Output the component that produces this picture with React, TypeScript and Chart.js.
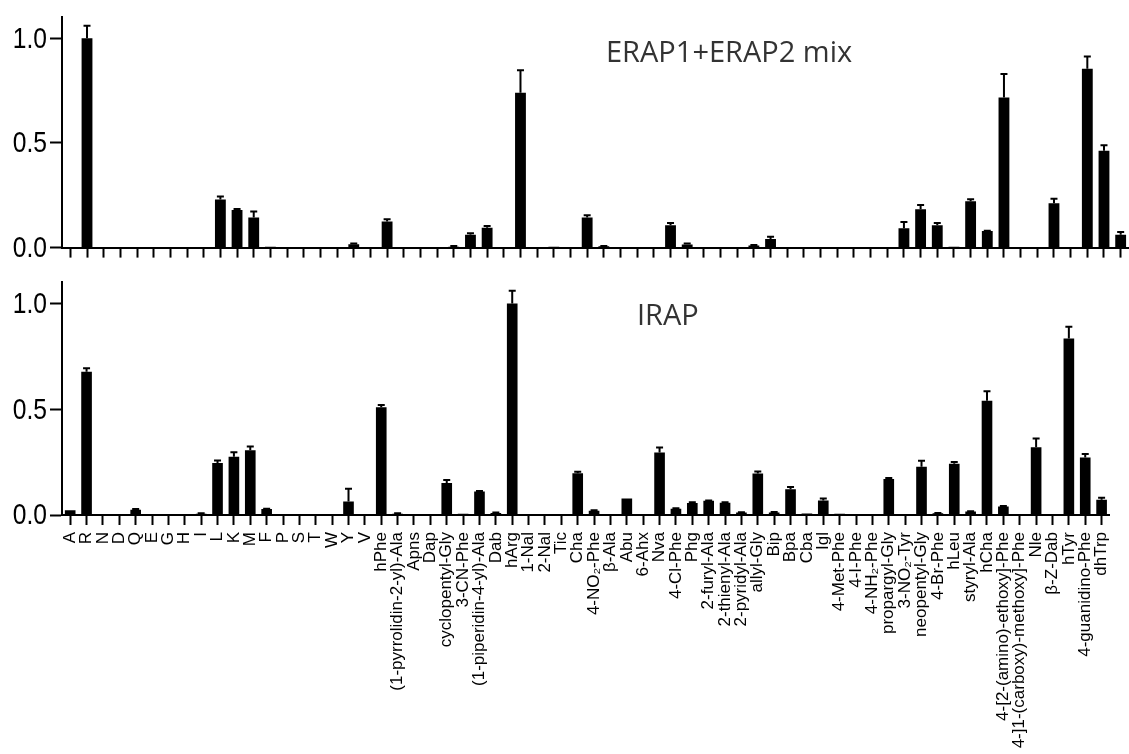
import React, { useEffect, useRef } from "react";
import { Chart, registerables } from "chart.js";

Chart.register(...registerables);

const categories = [
  "A", "R", "N", "D", "Q", "E", "G", "H", "I", "L", "K", "M", "F", "P", "S", "T", "W", "Y", "V",
  "hPhe", "(1-pyrrolidin-2-yl)-Ala", "Apns", "Dap", "cyclopentyl-Gly", "3-CN-Phe",
  "(1-piperidin-4-yl)-Ala", "Dab", "hArg", "1-Nal", "2-Nal", "Tic", "Cha", "4-NO₂-Phe",
  "β-Ala", "Abu", "6-Ahx", "Nva", "4-Cl-Phe", "Phg", "2-furyl-Ala", "2-thienyl-Ala",
  "2-pyridyl-Ala", "allyl-Gly", "Bip", "Bpa", "Cba", "Igl", "4-Met-Phe", "4-I-Phe",
  "4-NH₂-Phe", "propargyl-Gly", "3-NO₂-Tyr", "neopentyl-Gly", "4-Br-Phe", "hLeu",
  "styryl-Ala", "hCha", "4-[2-(amino)-ethoxy]-Phe", "4-]1-(carboxy)-methoxy]-Phe", "Nle",
  "β-Z-Dab", "hTyr", "4-guanidino-Phe", "dhTrp",
];

// ERAP1+ERAP2 mix
const erapValues = [
  0, 1.0, 0, 0, 0.003, 0, 0, 0, 0, 0.23, 0.18, 0.144, 0.004, 0, 0, 0, 0, 0.016, 0,
  0.125, 0, 0, 0.003, 0.004, 0.061, 0.095, 0, 0.74, 0, 0.004, 0, 0.144, 0.006,
  0, 0.003, 0, 0.107, 0.015, 0, 0.002, 0.002,
  0.01, 0.041, 0, 0, 0, 0, 0, 0,
  0, 0.093, 0.183, 0.107, 0.004, 0.222,
  0.079, 0.717, 0.003, 0, 0.212,
  0, 0.855, 0.463, 0.061,
];
const erapErrors = [
  0, 0.06, 0, 0, 0, 0, 0, 0, 0, 0.014, 0.005, 0.028, 0, 0, 0, 0, 0, 0.003, 0,
  0.01, 0, 0, 0, 0.004, 0.007, 0.008, 0, 0.107, 0, 0, 0, 0.01, 0.002,
  0, 0, 0, 0.01, 0.004, 0, 0, 0,
  0.003, 0.011, 0, 0, 0, 0, 0, 0,
  0, 0.029, 0.02, 0.01, 0, 0.009,
  0.002, 0.113, 0, 0, 0.022,
  0, 0.058, 0.026, 0.014,
];

// IRAP
const irapValues = [
  0.023, 0.677, 0.005, 0.002, 0.025, 0, 0, 0.003, 0.006, 0.246, 0.275, 0.306, 0.028, 0, 0.002, 0, 0.002, 0.064, 0.002,
  0.509, 0.006, 0, 0.002, 0.151, 0.006, 0.111, 0.01, 1.0, 0, 0, 0, 0.197, 0.02,
  0, 0.078, 0, 0.295, 0.03, 0.057, 0.067, 0.058,
  0.012, 0.196, 0.012, 0.122, 0.007, 0.069, 0.006, 0,
  0, 0.17, 0.003, 0.228, 0.008, 0.242,
  0.016, 0.54, 0.04, 0, 0.32,
  0, 0.835, 0.272, 0.072,
];
const irapErrors = [
  0, 0.017, 0, 0, 0.003, 0, 0, 0, 0.002, 0.012, 0.022, 0.018, 0.002, 0, 0, 0, 0, 0.06, 0,
  0.011, 0.002, 0, 0, 0.015, 0, 0.003, 0.002, 0.06, 0, 0, 0, 0.008, 0.002,
  0, 0, 0, 0.024, 0.002, 0.003, 0.002, 0.002,
  0.001, 0.01, 0.002, 0.01, 0, 0.009, 0, 0,
  0, 0.005, 0, 0.029, 0.002, 0.009,
  0.002, 0.045, 0.003, 0, 0.042,
  0, 0.055, 0.017, 0.009,
];

const yTickValues = [0, 0.5, 1.0];
const yMax = 1.1;

const errorBarPlugin = {
  id: "errorBars",
  afterDatasetsDraw(chart: any, _args: any, opts: any) {
    const errs: number[] = opts && opts.errors;
    if (!errs) return;
    const meta = chart.getDatasetMeta(0);
    const yScale = chart.scales.y;
    const data = chart.data.datasets[0].data as number[];
    const ctx = chart.ctx;
    ctx.save();
    ctx.strokeStyle = "#000";
    ctx.lineWidth = 2;
    meta.data.forEach((bar: any, i: number) => {
      const e = errs[i];
      if (!e) return;
      const top = yScale.getPixelForValue(data[i] + e);
      ctx.beginPath();
      ctx.moveTo(bar.x, bar.y);
      ctx.lineTo(bar.x, top);
      ctx.moveTo(bar.x - 3.5, top);
      ctx.lineTo(bar.x + 3.5, top);
      ctx.stroke();
    });
    ctx.restore();
  },
};

// Draws the y tick labels in a narrow (horizontally condensed) sans face
const narrowYLabelsPlugin = {
  id: "narrowYLabels",
  afterDraw(chart: any) {
    const yScale = chart.scales.y;
    const ctx = chart.ctx;
    const xRight = yScale.right - 12 - 3;
    ctx.save();
    ctx.font = '30px "Liberation Sans", Arial, sans-serif';
    ctx.fillStyle = "#000";
    ctx.textAlign = "right";
    ctx.textBaseline = "middle";
    yTickValues.forEach((v) => {
      const y = yScale.getPixelForValue(v);
      ctx.save();
      ctx.translate(xRight, y + 1);
      ctx.scale(0.82, 1);
      ctx.fillText(v.toFixed(1), 0, 0);
      ctx.restore();
    });
    ctx.restore();
  },
};

const panelTitlePlugin = {
  id: "panelTitle",
  afterDraw(chart: any, _args: any, opts: any) {
    if (!opts || !opts.text) return;
    const ctx = chart.ctx;
    ctx.save();
    ctx.font = '29px "Open Sans", sans-serif';
    ctx.fillStyle = "#333";
    ctx.textBaseline = "alphabetic";
    ctx.textAlign = "left";
    ctx.fillText(opts.text, opts.x, opts.y);
    ctx.restore();
  },
};

function makeConfig(
  values: number[],
  errors: number[],
  title: string,
  titleX: number,
  titleY: number,
  showLabels: boolean,
  padTop: number,
  xHeight: number
): any {
  return {
    type: "bar",
    data: {
      labels: categories,
      datasets: [
        {
          data: values,
          backgroundColor: "#000",
          borderWidth: 0,
          barPercentage: 0.65,
          categoryPercentage: 1,
        },
      ],
    },
    plugins: [errorBarPlugin, narrowYLabelsPlugin, panelTitlePlugin],
    options: {
      responsive: false,
      animation: false,
      layout: { padding: { top: padTop, left: 0, right: 0, bottom: 0 } },
      plugins: {
        legend: { display: false },
        tooltip: { enabled: false },
        title: { display: false },
        errorBars: { errors },
        panelTitle: { text: title, x: titleX, y: titleY },
      },
      scales: {
        x: {
          offset: true,
          grid: {
            display: true,
            drawOnChartArea: false,
            drawTicks: true,
            tickLength: 10,
            tickWidth: 2,
            tickColor: "#000",
            offset: false,
          },
          border: { display: true, color: "#000", width: 2 },
          ticks: {
            autoSkip: false,
            maxRotation: 90,
            minRotation: showLabels ? 90 : 0,
            padding: 7,
            color: "#000",
            font: { family: '"Liberation Sans", Arial, sans-serif', size: 17 },
            callback: function (this: any, _v: any, i: number) {
              return showLabels ? categories[i] : "";
            },
          },
          afterFit: (s: any) => {
            s.height = xHeight;
          },
        },
        y: {
          min: 0,
          max: yMax,
          grid: {
            display: true,
            drawOnChartArea: false,
            drawTicks: true,
            tickLength: 12,
            tickWidth: 2,
            tickColor: "#000",
          },
          border: { display: true, color: "#000", width: 2 },
          ticks: {
            padding: 3,
            color: "rgba(0,0,0,0)",
            font: { family: '"Liberation Sans", Arial, sans-serif', size: 24 },
            callback: (v: any) => Number(v).toFixed(1),
          },
          afterBuildTicks: (axis: any) => {
            axis.ticks = yTickValues.map((v) => ({ value: v }));
          },
          afterFit: (s: any) => {
            s.width = 62;
          },
        },
      },
    },
  };
}

export default function App() {
  const topRef = useRef<HTMLCanvasElement>(null);
  const botRef = useRef<HTMLCanvasElement>(null);

  useEffect(() => {
    document.body.style.margin = "0";
    const c1 = new Chart(
      topRef.current as HTMLCanvasElement,
      makeConfig(erapValues, erapErrors, "ERAP1+ERAP2 mix", 606, 62, false, 13, 12)
    );
    const c2 = new Chart(
      botRef.current as HTMLCanvasElement,
      makeConfig(irapValues, irapErrors, "IRAP", 637, 60, true, 11, 239)
    );
    return () => {
      c1.destroy();
      c2.destroy();
    };
  }, []);

  return (
    <div
      style={{
        position: "absolute",
        left: 0,
        top: 0,
        width: 1129,
        height: 754,
        background: "#fff",
        overflow: "hidden",
      }}
    >
      <canvas
        ref={topRef}
        width={1129}
        height={265}
        style={{ position: "absolute", left: 0, top: 0, display: "block" }}
      />
      <canvas
        ref={botRef}
        width={1129}
        height={489}
        style={{ position: "absolute", left: 0, top: 265, display: "block" }}
      />
    </div>
  );
}
